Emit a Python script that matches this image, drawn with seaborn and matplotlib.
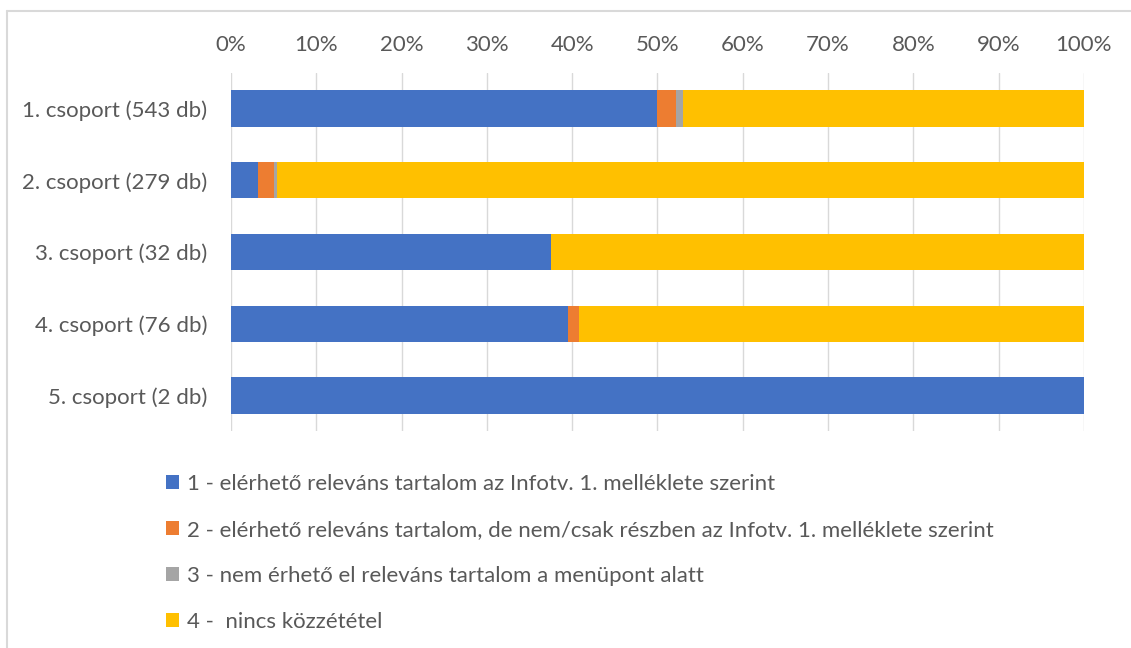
import pandas as pd
import matplotlib.pyplot as plt
import seaborn as sns
import numpy as np
from matplotlib.lines import Line2D
from matplotlib.patches import Patch

# Data (counts per group)
groups = ['1. csoport (543 db)', '2. csoport (279 db)', '3. csoport (32 db)',
          '4. csoport (76 db)', '5. csoport (2 db)']
cat1 = [271, 9, 12, 30, 2]
cat2 = [12, 5, 0, 1, 0]
cat3 = [5, 1, 0, 0, 0]
cat4 = [255, 264, 20, 45, 0]

labels = ['1 - elérhető releváns tartalom az Infotv. 1. melléklete szerint',
          '2 - elérhető releváns tartalom, de nem/csak részben az Infotv. 1. melléklete szerint',
          '3 - nem érhető el releváns tartalom a menüpont alatt',
          '4 -  nincs közzététel']
colors = ['#4472C4', '#ED7D31', '#A5A5A5', '#FFC000']

df = pd.DataFrame({'group': groups, 'c1': cat1, 'c2': cat2, 'c3': cat3, 'c4': cat4})
total = df[['c1', 'c2', 'c3', 'c4']].sum(axis=1)
for c in ['c1', 'c2', 'c3', 'c4']:
    df[c] = df[c] / total * 100
# cumulative shares for stacking
df['s1'] = df['c1']
df['s2'] = df['s1'] + df['c2']
df['s3'] = df['s2'] + df['c3']
df['s4'] = df['s3'] + df['c4']

sns.set_style("white")
plt.rcParams['font.family'] = ['Lato', 'DejaVu Sans']
text_col = '#595959'
fs = 16

fig = plt.figure(figsize=(11.31, 6.48), dpi=100)
ax = fig.add_axes([0.2042, 0.3343, 0.7542, 0.5537])

# draw from the outermost cumulative to the innermost
for col, color in zip(['s4', 's3', 's2', 's1'], colors[::-1]):
    sns.barplot(data=df, x=col, y='group', color=color, width=0.507,
                linewidth=0, saturation=1, ax=ax, zorder=3)

ax.set_xlim(0, 100)
ax.set_xticks(np.arange(0, 101, 10))
ax.set_xticklabels([f'{t}%' for t in range(0, 101, 10)])
ax.xaxis.tick_top()
ax.tick_params(axis='both', length=0, labelsize=fs, colors=text_col)
ax.tick_params(axis='x', pad=13)
ax.tick_params(axis='y', pad=17)
ax.set_xlabel('')
ax.set_ylabel('')
ax.grid(axis='x', color='#d9d9d9', linewidth=1, zorder=0)
ax.grid(axis='y', visible=False)
for s in ax.spines.values():
    s.set_visible(False)

handles = [Patch(facecolor=c, edgecolor='none') for c in colors]
leg = fig.legend(handles, labels, loc='upper left', bbox_to_anchor=(0.129, 0.299),
                 frameon=False, fontsize=fs, labelspacing=1.17, handlelength=0.6,
                 handleheight=0.6, handletextpad=0.35, labelcolor=text_col)

# light frame around the chart (left and top edges)
fig.add_artist(Line2D([7 / 1131, 7 / 1131], [0, 1 - 11 / 648], color='#d9d9d9', lw=1.5))
fig.add_artist(Line2D([7 / 1131, 1], [1 - 11 / 648, 1 - 11 / 648], color='#d9d9d9', lw=1.5))

plt.savefig('out.png', dpi=100)
